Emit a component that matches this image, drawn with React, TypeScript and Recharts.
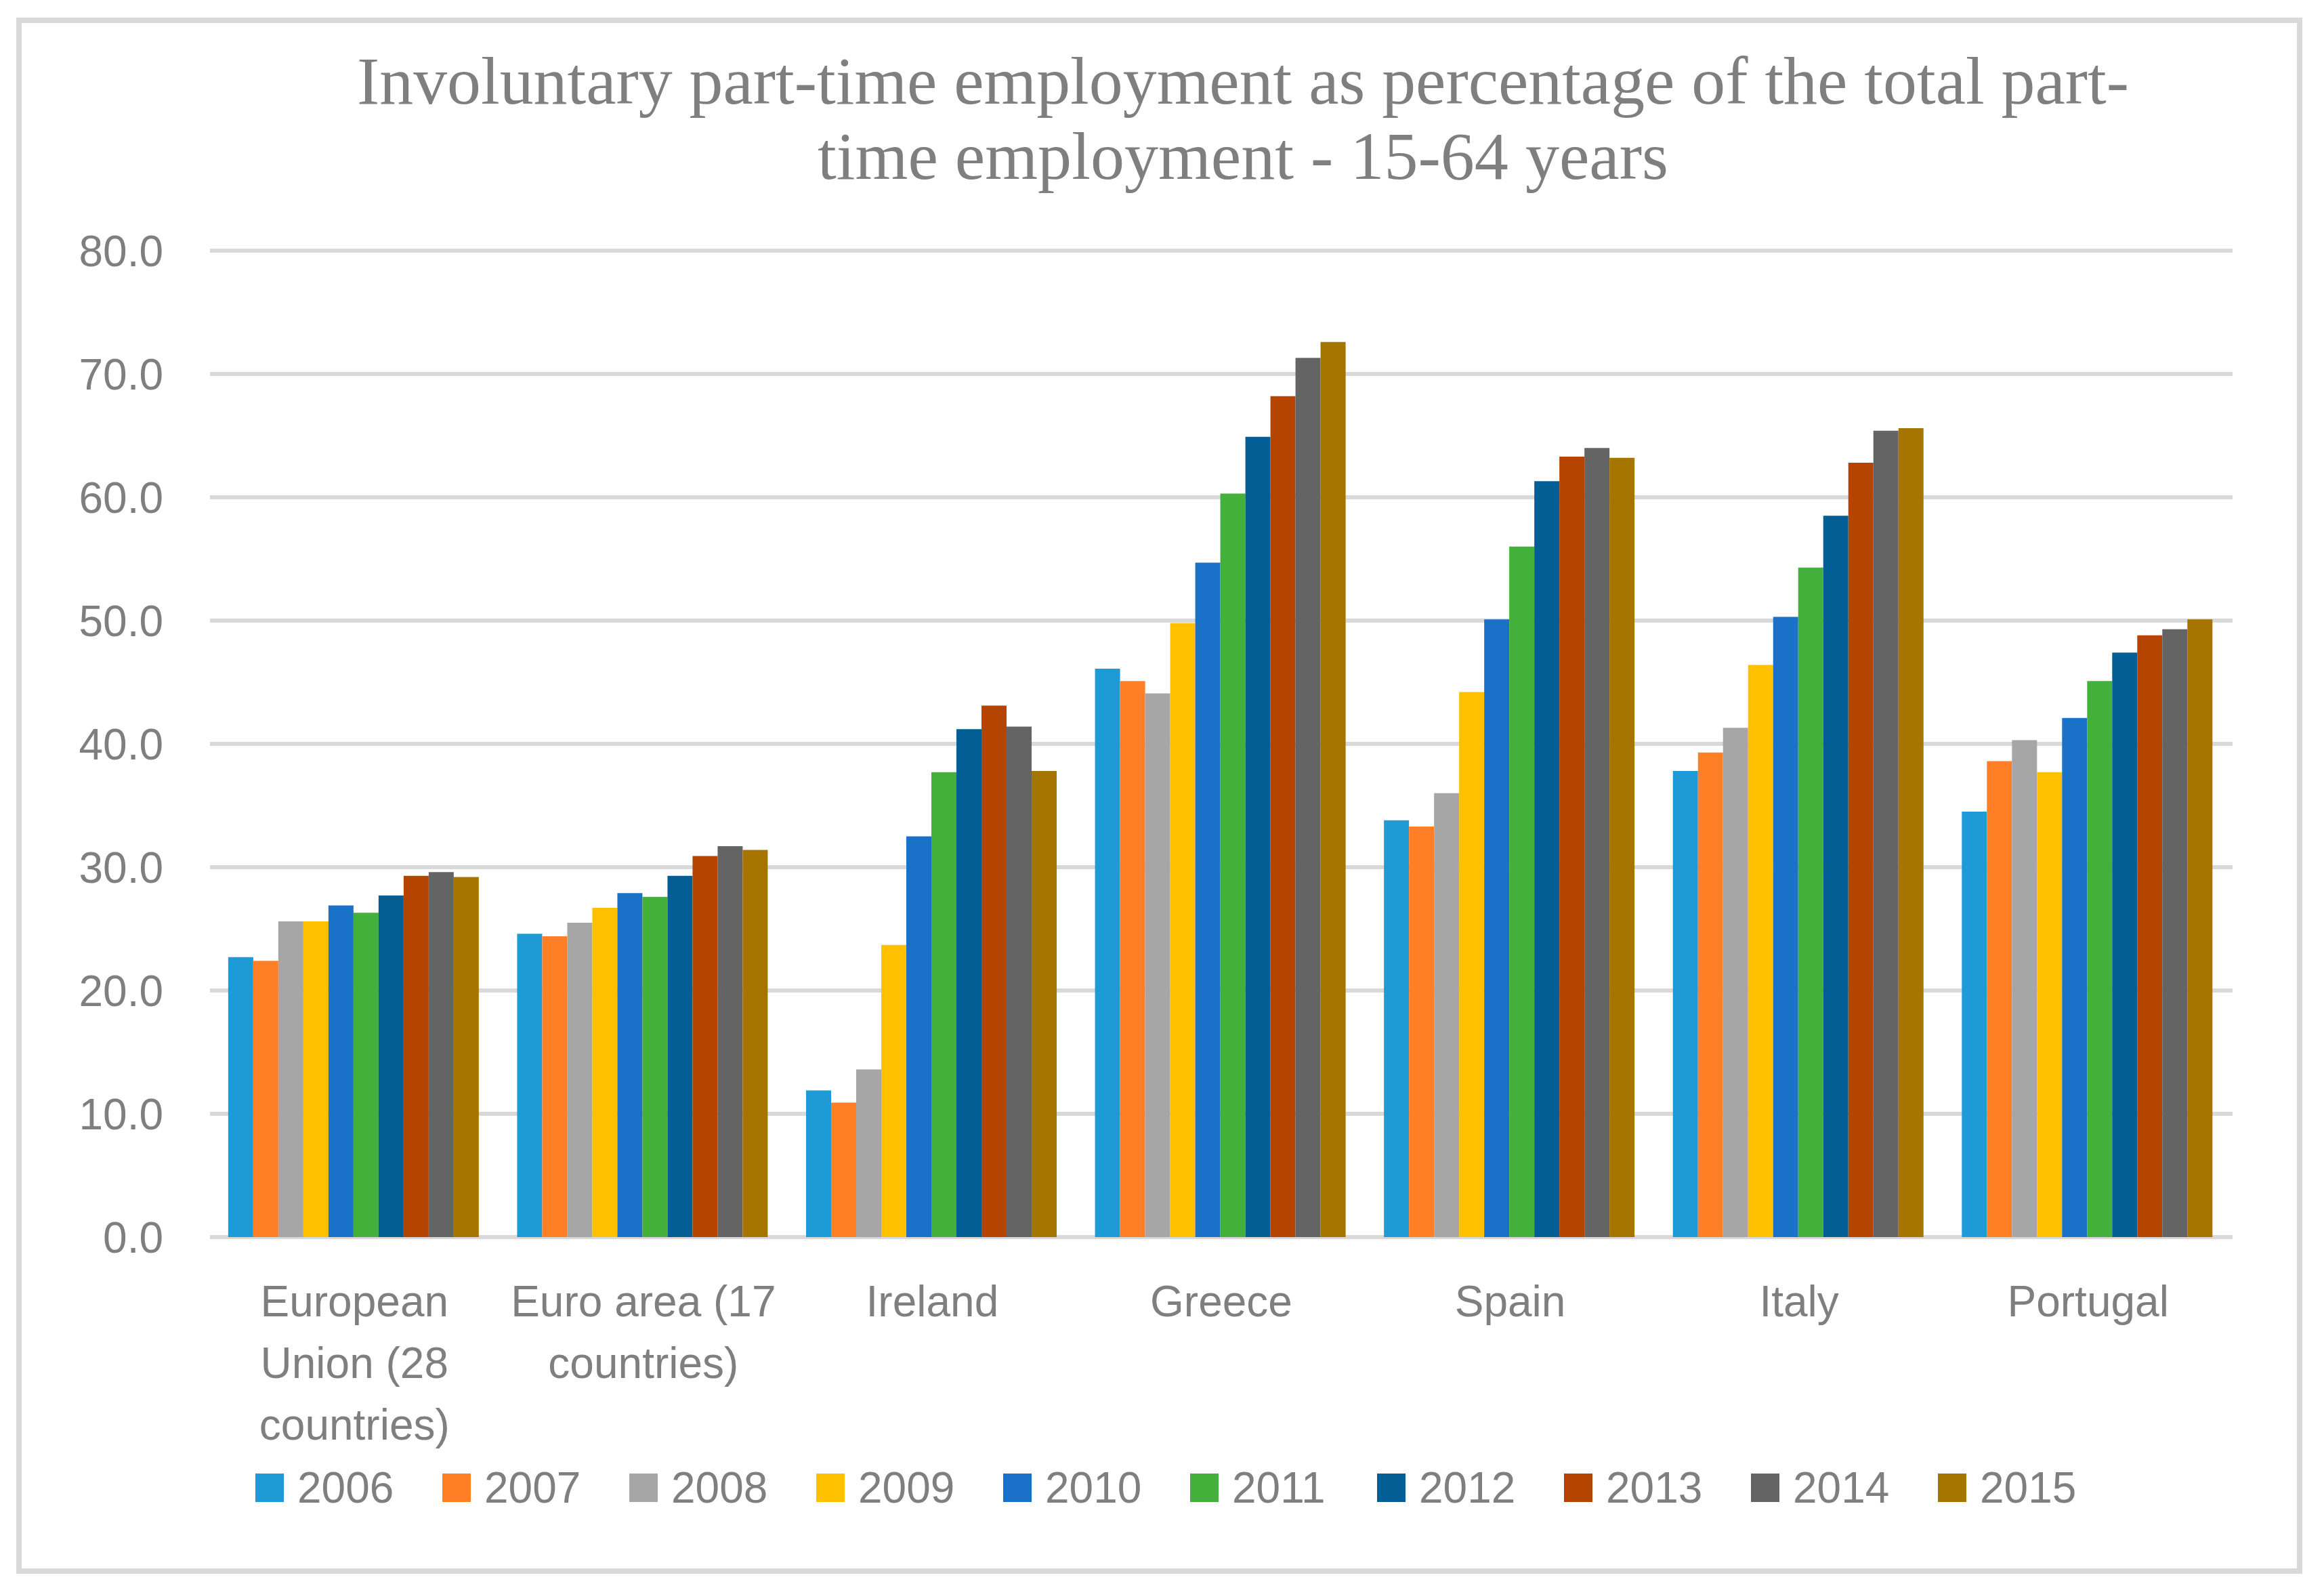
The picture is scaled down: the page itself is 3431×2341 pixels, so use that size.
import React from 'react';
import { BarChart, Bar, XAxis, YAxis, CartesianGrid } from 'recharts';

const CATEGORIES = [
  'European Union (28 countries)',
  'Euro area (17 countries)',
  'Ireland',
  'Greece',
  'Spain',
  'Italy',
  'Portugal',
];

const YEARS = ['2006', '2007', '2008', '2009', '2010', '2011', '2012', '2013', '2014', '2015'];

const V2006 = [22.7, 24.6, 11.9, 46.1, 33.8, 37.8, 34.5];
const V2007 = [22.4, 24.4, 10.9, 45.1, 33.3, 39.3, 38.6];
const V2008 = [25.6, 25.5, 13.6, 44.1, 36.0, 41.3, 40.3];
const V2009 = [25.6, 26.7, 23.7, 49.8, 44.2, 46.4, 37.7];
const V2010 = [26.9, 27.9, 32.5, 54.7, 50.1, 50.3, 42.1];
const V2011 = [26.3, 27.6, 37.7, 60.3, 56.0, 54.3, 45.1];
const V2012 = [27.7, 29.3, 41.2, 64.9, 61.3, 58.5, 47.4];
const V2013 = [29.3, 30.9, 43.1, 68.2, 63.3, 62.8, 48.8];
const V2014 = [29.6, 31.7, 41.4, 71.3, 64.0, 65.4, 49.3];
const V2015 = [29.2, 31.4, 37.8, 72.6, 63.2, 65.6, 50.1];

const SERIES = [V2006, V2007, V2008, V2009, V2010, V2011, V2012, V2013, V2014, V2015];

const Y_TICKS = [0, 10, 20, 30, 40, 50, 60, 70, 80];

const TITLE_LINES = [
  'Involuntary part-time employment as percentage of the total part-',
  'time employment - 15-64 years',
];

const COLORS = [
  '#1E9BD7', '#FF7F27', '#A6A6A6', '#FFC000', '#1972C8',
  '#44B03C', '#025E94', '#B54401', '#646464', '#A67500',
];

const data = CATEGORIES.map((name, i) => {
  const row: Record<string, string | number> = { name };
  YEARS.forEach((y, j) => {
    row[y] = SERIES[j][i];
  });
  return row;
});

const W = 3431;
const H = 2341;
const TEXT = '#7F7F7F';
const FONT = '"Liberation Sans", Arial, sans-serif';

// greedy word wrap, measured with a canvas
function wrapLabel(label: string, maxWidth: number): string[] {
  const ctx = document.createElement('canvas').getContext('2d');
  if (!ctx) return [label];
  ctx.font = `64px ${FONT}`;
  const lines: string[] = [];
  let cur = '';
  label.split(' ').forEach((word) => {
    const test = cur ? `${cur} ${word}` : word;
    if (cur && ctx.measureText(test).width > maxWidth) {
      lines.push(cur);
      cur = word;
    } else {
      cur = test;
    }
  });
  if (cur) lines.push(cur);
  return lines;
}

function CategoryTick(props: any) {
  const { x, y, payload } = props;
  const lines = wrapLabel(String(payload.value), 420);
  return (
    <text x={x} y={y} textAnchor="middle" fill={TEXT} fontSize={64} fontFamily={FONT}>
      {lines.map((line, i) => (
        <tspan key={i} x={x} y={y + 45 + i * 91}>
          {line}
        </tspan>
      ))}
    </text>
  );
}

export default function App() {
  return (
    <div style={{ position: 'absolute', left: 0, top: 0, width: W, height: H, background: '#fff' }}>
      <BarChart
        width={W}
        height={H}
        data={data}
        margin={{ top: 370, right: 135, bottom: 215, left: 0 }}
        barCategoryGap="6.3%"
        barGap={0}
      >
        <CartesianGrid vertical={false} stroke="#D9D9D9" strokeWidth={6} />
        <XAxis
          dataKey="name"
          axisLine={false}
          tickLine={false}
          tickSize={0}
          tickMargin={72}
          height={300}
          interval={0}
          tick={<CategoryTick />}
        />
        <YAxis
          domain={[0, 80]}
          ticks={Y_TICKS}
          width={310}
          axisLine={false}
          tickLine={false}
          tickSize={0}
          tickMargin={69}
          tickFormatter={(v: number) => v.toFixed(1)}
          tick={{ fill: TEXT, fontSize: 64, fontFamily: FONT }}
        />
        {YEARS.map((y, j) => (
          <Bar key={y} dataKey={y} fill={COLORS[j]} isAnimationActive={false} />
        ))}
      </BarChart>
      <svg
        width={W}
        height={H}
        style={{ position: 'absolute', left: 0, top: 0, pointerEvents: 'none' }}
      >
        <rect x={28} y={30} width={3367} height={2289} fill="none" stroke="#D9D9D9" strokeWidth={8} />
        <text
          x={1835}
          y={153}
          textAnchor="middle"
          fontFamily='"Liberation Serif", "Times New Roman", serif'
          fontSize={100}
          fill={TEXT}
          textLength={2616}
          lengthAdjust="spacingAndGlyphs"
        >
          {TITLE_LINES[0]}
        </text>
        <text
          x={1835}
          y={264}
          textAnchor="middle"
          fontFamily='"Liberation Serif", "Times New Roman", serif'
          fontSize={100}
          fill={TEXT}
          textLength={1256}
          lengthAdjust="spacingAndGlyphs"
        >
          {TITLE_LINES[1]}
        </text>
        {YEARS.map((y, j) => (
          <g key={y} transform={`translate(${377 + j * 276}, 0)`}>
            <rect x={0} y={2175} width={42} height={42} fill={COLORS[j]} />
            <text x={62} y={2218} fontFamily={FONT} fontSize={64} fill={TEXT}>
              {y}
            </text>
          </g>
        ))}
      </svg>
    </div>
  );
}
